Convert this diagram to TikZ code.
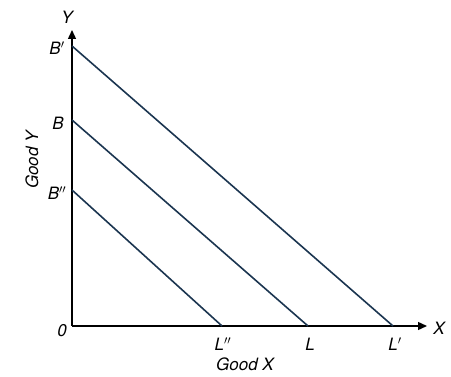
\documentclass[tikz,border=0pt]{standalone}
\usepackage{fontspec}
\setmainfont{TeX Gyre Heros}
\usetikzlibrary{arrows.meta}
\begin{document}
\begin{tikzpicture}[x=1pt,y=-1pt,
  axis/.style={line width=1.4pt,black,-{Triangle[length=9pt,width=8pt]}},
  budget/.style={line width=1.6pt,color=linecol},
  lbl/.style={font=\fontsize{17}{17}\selectfont\itshape,inner sep=0pt}]
\definecolor{linecol}{HTML}{1B3550}
\useasboundingbox (0,0) rectangle (451,377);
\coordinate (O) at (72,326);
\coordinate (Ytop) at (72,30);
\coordinate (Xend) at (427,326);
\coordinate (Bp) at (72,46);
\coordinate (B) at (72,120);
\coordinate (Bpp) at (72,190);
\coordinate (Lp) at (393,326);
\coordinate (L) at (308,326);
\coordinate (Lpp) at (222,326);
\draw[axis] (O) -- (Ytop);
\draw[axis] (O) -- (Xend);
\draw[budget] (Bp) -- (Lp);
\draw[budget] (B) -- (L);
\draw[budget] (Bpp) -- (Lpp);
\node[lbl] (ylab) at (67,17) {Y};
\node[lbl] (xlab) at (439,328) {X};
\node[lbl] (olab) at (62,331) {0};
\node[lbl] (bplab) at (57,48) {B$'$};
\node[lbl] (blab) at (58,123) {B};
\node[lbl] (bpplab) at (57,193) {B$''$};
\node[lbl] (lpplab) at (223,344) {L$''$};
\node[lbl] (llab) at (310,344) {L};
\node[lbl] (lplab) at (395,344) {L$'$};
\node[lbl] (gx) at (245,364) {Good X};
\node[lbl,rotate=90] (gy) at (32,160) {Good Y};
\end{tikzpicture}
\end{document}
